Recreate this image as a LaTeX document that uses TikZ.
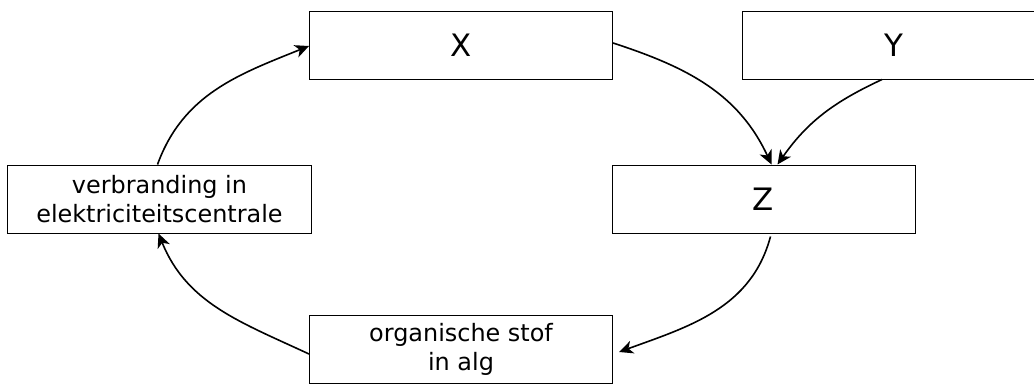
\documentclass[tikz,border=0pt]{standalone}
\usepackage{fontspec}
\setmainfont{DejaVu Sans}
\usetikzlibrary{arrows.meta}
\begin{document}
\begin{tikzpicture}[x=1bp,y=-1bp,
    box/.style={draw,line width=1bp,minimum width=303bp,minimum height=68bp,
        inner sep=0pt,align=center,font=\fontsize{24}{29}\selectfont},
    letter/.style={box,font=\fontsize{31}{36}\selectfont},
    arr/.style={line width=1.6bp,-{Stealth[length=14bp,width=13bp,inset=4bp]}}]
        \useasboundingbox (0,0) rectangle (1034,383);
        \clip (0,0) rectangle (1034,383);

        \node[letter] (X) at (461,45) {X};
        \node[letter] (Y) at (894,45) {Y};
        \node[letter] (Z) at (763.5,199) {Z};
        \node[box] (verbr) at (159.5,199) {verbranding in\\elektriciteitscentrale};
        \node[box] (alg) at (461,349) {organische stof\\in alg};

        % kringloop
        \draw[arr] ([yshift=2bp]X.east) to[out=-18,in=115] ([xshift=8bp]Z.north);
        \draw[arr] ([xshift=-12bp]Y.south) to[out=205,in=55] ([xshift=14bp]Z.north);
        \draw[arr] ([xshift=7bp,yshift=-3bp]Z.south) to[out=-105,in=20] ([xshift=6bp,yshift=-3bp]alg.east);
        \draw[arr] ([yshift=-5bp]alg.west) to[out=155,in=-68] ([xshift=-1bp]verbr.south);
        \draw[arr] ([xshift=-2bp]verbr.north) to[out=70,in=202] ([yshift=-1bp]X.west);
\end{tikzpicture}
\end{document}
